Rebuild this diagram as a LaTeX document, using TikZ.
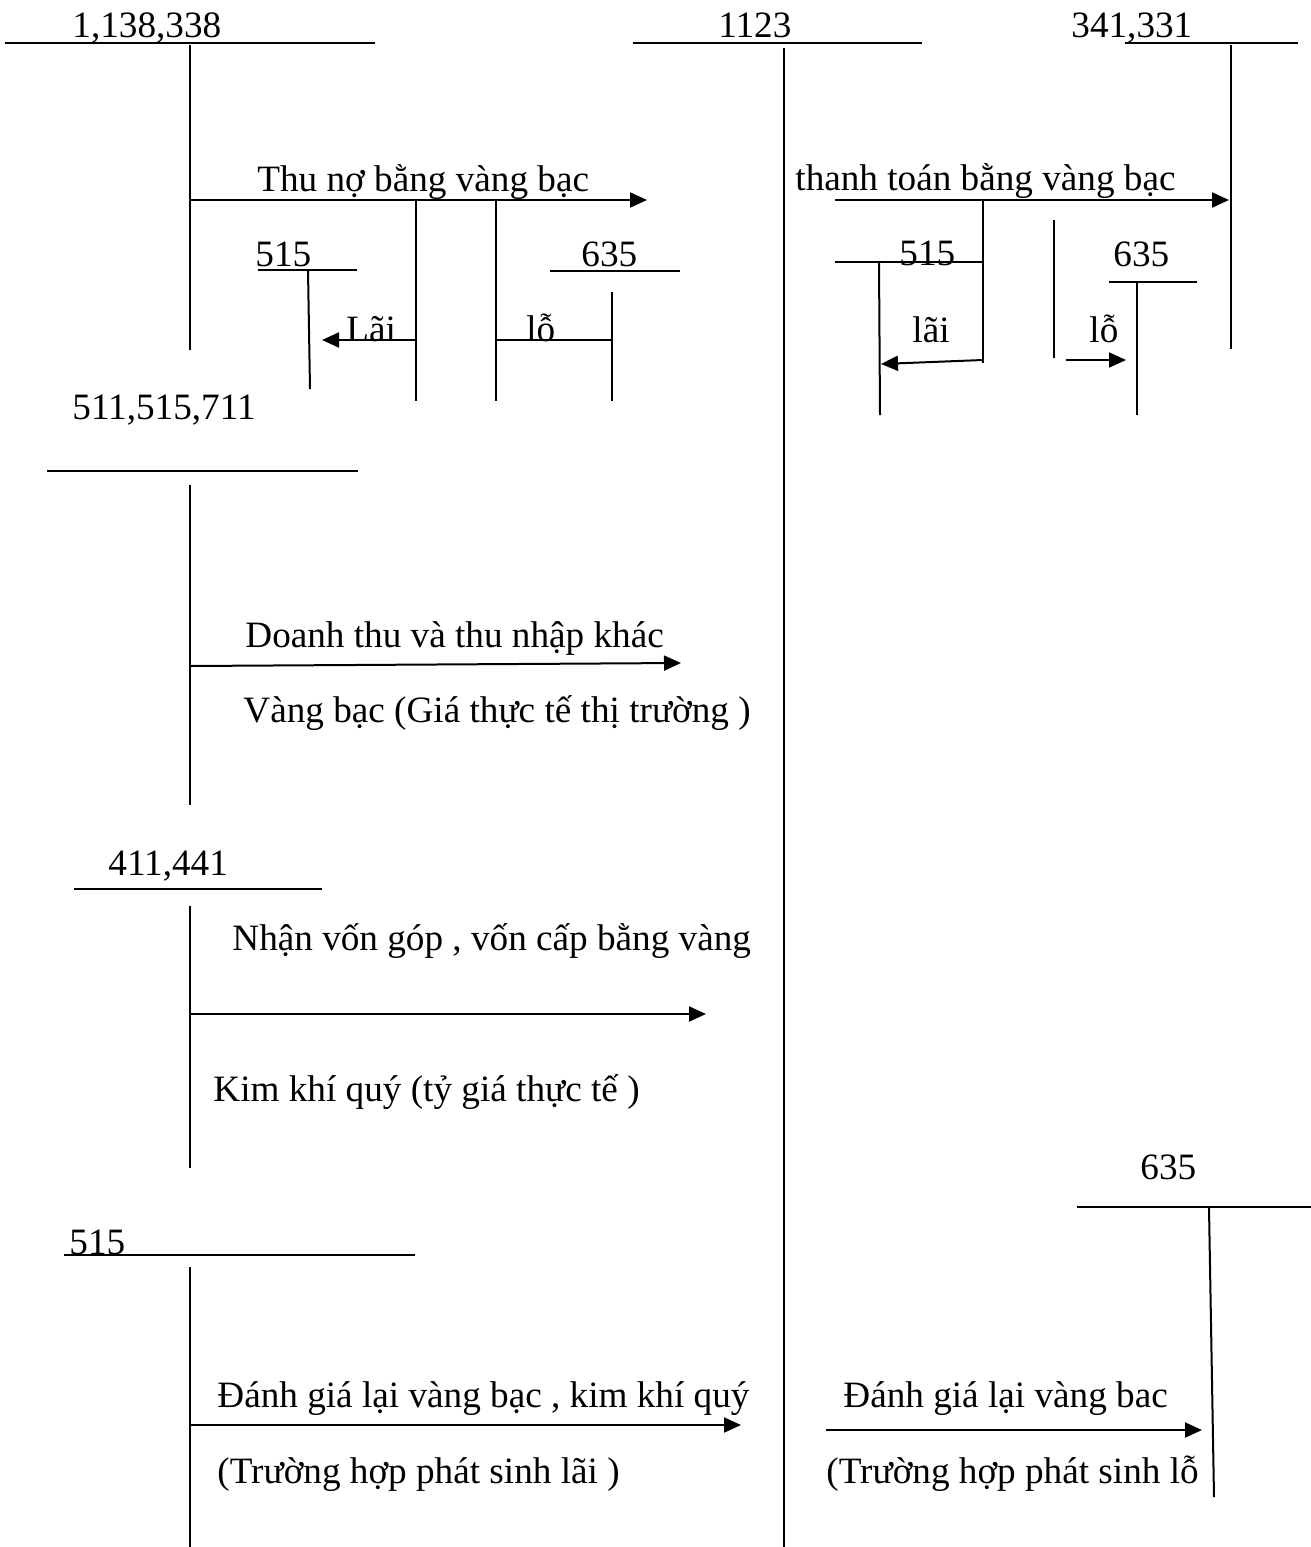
\documentclass[tikz,border=0pt]{standalone}
\usepackage{fontspec}
\setmainfont{Liberation Serif}
\usetikzlibrary{arrows.meta}
\begin{document}
\begin{tikzpicture}[x=0.5pt,y=-0.5pt,
  ln/.style={line width=1pt},
  arr/.style={line width=1pt,-{Triangle[length=8.5pt,width=7.5pt]}},
  lbl/.style={anchor=base west,inner sep=0pt,font=\fontsize{18.6}{22}\selectfont}]
\useasboundingbox (0,0) rectangle (1311,1547);

% ---------- labels ----------
\node[lbl] (tA) at (72,38) {1,138,338};
\node[lbl] (tB) at (718,37) {1123};
\node[lbl] (tC) at (1071,37) {341,331};
\node[lbl] (lThu) at (257,191) {Thu nợ bằng vàng bạc};
\node[lbl] (t515a) at (255,266) {515};
\node[lbl] (lLai1) at (346,341) {Lãi};
\node[lbl] (lLo1) at (526,341) {lỗ};
\node[lbl] (t635a) at (581,266) {635};
\node[lbl] (lTT) at (795,190) {thanh toán bằng vàng bạc};
\node[lbl] (t515b) at (899,265) {515};
\node[lbl] (lLai2) at (912,342) {lãi};
\node[lbl] (lLo2) at (1089,342) {lỗ};
\node[lbl] (t635b) at (1113,266) {635};
\node[lbl] (tD) at (72,419) {511,515,711};
\node[lbl] (lDT) at (245,647) {Doanh thu và thu nhập khác};
\node[lbl] (lVB) at (243,722) {Vàng bạc (Giá thực tế thị trường )};
\node[lbl] (tE) at (108,875) {411,441};
\node[lbl] (lNV) at (232,950) {Nhận vốn góp , vốn cấp bằng vàng};
\node[lbl] (lKK) at (213,1101) {Kim khí quý (tỷ giá thực tế )};
\node[lbl] (t515c) at (69,1254) {515};
\node[lbl] (t635c) at (1140,1179) {635};
\node[lbl] (lDG1) at (217,1407) {Đánh giá lại vàng bạc , kim khí quý};
\node[lbl] (lTH1) at (217,1483) {(Trường hợp phát sinh lãi )};
\node[lbl] (lDG2) at (843,1407) {Đánh giá lại vàng bac};
\node[lbl] (lTH2) at (826,1483) {(Trường hợp phát sinh lỗ};

% ---------- T-accounts ----------
% 1,138,338
\draw[ln] (5,43) -- (375,43);
\draw[ln] (190,45) -- (190,350);
% 1123
\draw[ln] (633,43) -- (922,43);
\draw[ln] (784,48) -- (784,1547);
% 341,331
\draw[ln] (1125,43) -- (1298,43);
\draw[ln] (1231,45) -- (1231,349);
% 515 (top left)
\draw[ln] (258,270) -- (357,270);
\draw[ln] (308,270) -- (310,389);
% 635 (top left)
\draw[ln] (550,271) -- (680,271);
\draw[ln] (612,292) -- (612,401);
% 515 (top right)
\draw[ln] (835,262) -- (983,262);
\draw[ln] (879,262) -- (880,415);
% 635 (top right)
\draw[ln] (1109,282) -- (1197,282);
\draw[ln] (1137,283) -- (1137,415);
% 511,515,711
\draw[ln] (47,471) -- (358,471);
\draw[ln] (190,485) -- (190,805);
% 411,441
\draw[ln] (74,889) -- (322,889);
\draw[ln] (190,906) -- (190,1168);
% 515 (bottom)
\draw[ln] (64,1255) -- (415,1255);
\draw[ln] (190,1267) -- (190,1547);
% 635 (bottom right)
\draw[ln] (1077,1207) -- (1311,1207);
\draw[ln] (1209,1208) -- (1214,1497);

% ---------- connector points ----------
\coordinate (thuS) at (190,200);
\coordinate (thuE) at (647,200);
\coordinate (v1T) at (416,200);
\coordinate (v1B) at (416,401);
\coordinate (v2T) at (496,200);
\coordinate (v2B) at (496,401);
\coordinate (lai1S) at (416,340);
\coordinate (lai1E) at (322,340);
\coordinate (lo1S) at (496,340);
\coordinate (lo1E) at (612,340);
\coordinate (ttS) at (835,200);
\coordinate (ttE) at (1229,200);
\coordinate (v3T) at (983,200);
\coordinate (v3B) at (983,363);
\coordinate (lai2S) at (983,360);
\coordinate (lai2E) at (881,364);
\coordinate (v4T) at (1054,220);
\coordinate (v4B) at (1054,358);
\coordinate (lo2S) at (1066,360);
\coordinate (lo2E) at (1126,360);
\coordinate (dtS) at (190,666);
\coordinate (dtE) at (681,663);
\coordinate (nvS) at (190,1014);
\coordinate (nvE) at (706,1014);
\coordinate (dg1S) at (190,1425);
\coordinate (dg1E) at (741,1425);
\coordinate (dg2S) at (826,1430);
\coordinate (dg2E) at (1202,1430);

% ---------- connectors ----------
\draw[arr] (thuS) -- (thuE);
\draw[ln] (v1T) -- (v1B);
\draw[ln] (v2T) -- (v2B);
\draw[arr] (lai1S) -- (lai1E);
\draw[ln] (lo1S) -- (lo1E);
\draw[arr] (ttS) -- (ttE);
\draw[ln] (v3T) -- (v3B);
\draw[arr] (lai2S) -- (lai2E);
\draw[ln] (v4T) -- (v4B);
\draw[arr] (lo2S) -- (lo2E);
\draw[arr] (dtS) -- (dtE);
\draw[arr] (nvS) -- (nvE);
\draw[arr] (dg1S) -- (dg1E);
\draw[arr] (dg2S) -- (dg2E);
\end{tikzpicture}
\end{document}
